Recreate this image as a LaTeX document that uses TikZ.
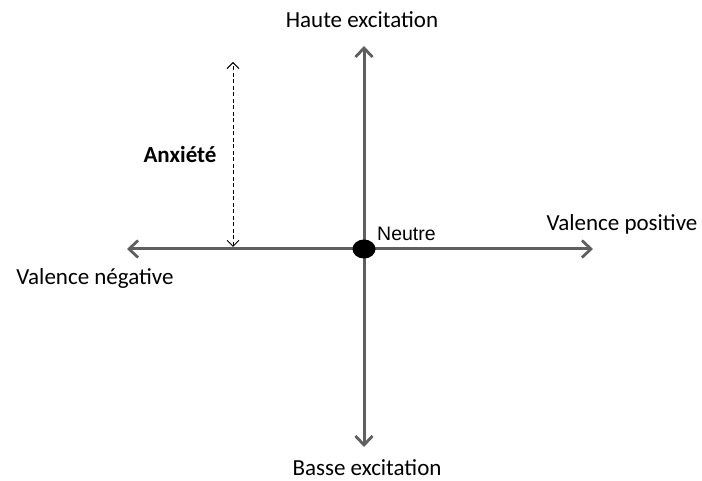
\documentclass[tikz,border=0pt]{standalone}
\usepackage{fontspec}
\setmainfont{Carlito}
\newfontfamily\arialfont{Liberation Sans}
\usetikzlibrary{arrows.meta,shapes.geometric}
\definecolor{axisgray}{HTML}{5F5F5F}

\begin{document}
\begin{tikzpicture}[
  x=1pt, y=1pt,
  axis/.style={draw=axisgray, line width=3pt, {Straight Barb[length=9pt,width=17pt,line width=2.8pt]}-{Straight Barb[length=9pt,width=17pt,line width=2.8pt]}},
  span/.style={draw=black, dash pattern=on 4pt off 2.5pt, line width=1pt, {Straight Barb[length=6pt,width=12pt,line width=1pt]}-{Straight Barb[length=6pt,width=12pt,line width=1pt]}},
  label/.style={font=\fontsize{23}{26}\selectfont, inner sep=0pt},
  font=\small
]
\useasboundingbox (0,0) rectangle (702,481);

% axes
\coordinate (left) at (127,232);
\coordinate (right) at (593,232);
\coordinate (top) at (364,435);
\coordinate (bottom) at (364,34);
\draw[axis] (left) -- (right);
\draw[axis] (bottom) -- (top);
\node[ellipse, fill=black, minimum width=23pt, minimum height=19pt, inner sep=0pt] (neutre) at (364,232) {};
\node[anchor=west, font=\arialfont\fontsize{19.5}{22}\selectfont, inner sep=0pt] (neutrelbl) at (377,247) {Neutre};

% anxiete
\coordinate (anxtop) at (233,419);
\coordinate (anxbot) at (233,234);
\draw[span] (anxbot) -- (anxtop);
\node[label, font=\bfseries\fontsize{23}{26}\selectfont] (anx) at (180,326) {Anxiété};

% labels
\node[label] (haute) at (362,461) {Haute excitation};
\node[label] (basse) at (367,13) {Basse excitation};
\node[label] (pos) at (622,257) {Valence positive};
\node[label] (neg) at (95,203) {Valence négative};
\end{tikzpicture}
\end{document}
